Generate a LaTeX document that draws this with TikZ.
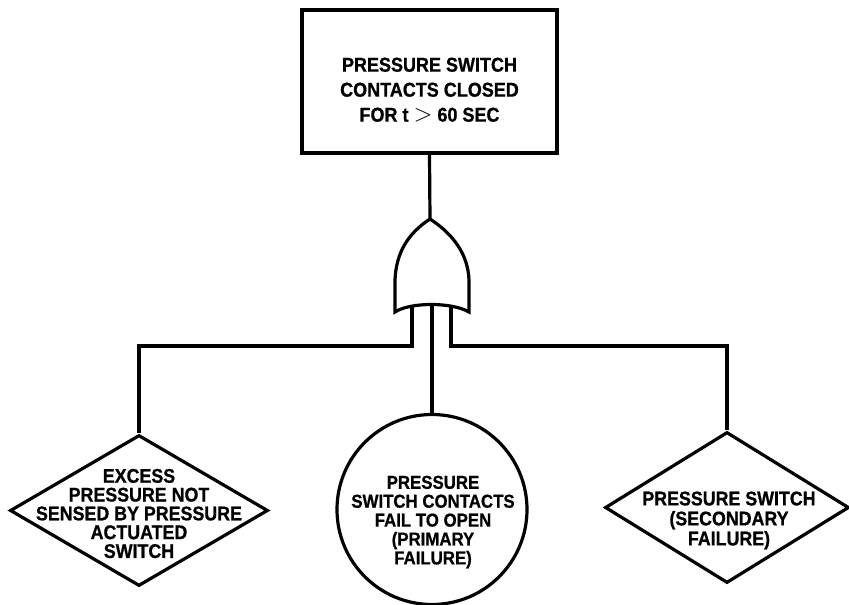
\documentclass[tikz,border=0pt]{standalone}
\usepackage{fontspec}
\setmainfont{Liberation Sans}[FakeStretch=0.9, FakeBold=0.8]
\usetikzlibrary{shapes.geometric, positioning}

\begin{document}
\begin{tikzpicture}[x=1pt, y=-1pt, line width=3.2pt,
    topevent/.style={draw, rectangle, minimum width=255pt, minimum height=143pt, inner sep=0pt},
    basicevent/.style={draw, circle, minimum size=190pt, inner sep=0pt},
    undevent/.style={draw, diamond, minimum height=151pt, inner sep=0pt},
    boxtext/.style={align=center, font=\fontsize{20}{25}\selectfont\bfseries},
    evtext/.style={align=center, font=\fontsize{19.8}{18.8}\selectfont\bfseries},
    wire/.style={line width=3.2pt, line join=miter}]

  \useasboundingbox (0,0) rectangle (849,605);

  % --- Evento superior ---
  \node[topevent] (top) at (429.5,81.5) {};
  \node[boxtext] (toptext) at (429.5,90)
        {PRESSURE SWITCH\\CONTACTS CLOSED\\FOR t {\fontsize{24}{25}\selectfont$>$} 60 SEC};

  % --- Puerta OR ---
  \coordinate (gout) at (430,219);
  \coordinate (gin1) at (412,307);
  \coordinate (gin2) at (432,304.5);
  \coordinate (gin3) at (451,307);
  \coordinate (bus) at (0,346);
  \draw[wire] (gout) .. controls (407,234) and (396,254) .. (395,280) -- (395,312)
        .. controls (410,302) and (452,302) .. (469,312) -- (469,280)
        .. controls (468,254) and (453,234) .. (gout);

  % --- Eventos de entrada ---
  \node[undevent, minimum width=258pt] (ev1) at (139,510.5) {};
  \node[evtext] (ev1text) at (139,513.5)
        {EXCESS\\PRESSURE NOT\\SENSED BY PRESSURE\\ACTUATED\\SWITCH};

  \node[basicevent] (ev2) at (432,509.5) {};
  \node[evtext, font=\fontsize{18.7}{18.9}\selectfont\bfseries] (ev2text) at (433,522)
        {PRESSURE\\SWITCH CONTACTS\\FAIL TO OPEN\\(PRIMARY\\FAILURE)};

  \node[undevent, minimum width=244pt] (ev3) at (727,507.5) {};
  \node[evtext, font=\fontsize{19.8}{20}\selectfont\bfseries] (ev3text) at (729,520.5)
        {PRESSURE SWITCH\\(SECONDARY\\FAILURE)};

  % --- Conexiones ---
  \draw[wire] (top.south) -- (gout);
  \draw[wire] (gin1) -- (gin1 |- bus) -| (ev1.north);
  \draw[wire] (gin2) -- (ev2.north);
  \draw[wire] (gin3) -- (gin3 |- bus) -| (ev3.north);
\end{tikzpicture}
\end{document}
